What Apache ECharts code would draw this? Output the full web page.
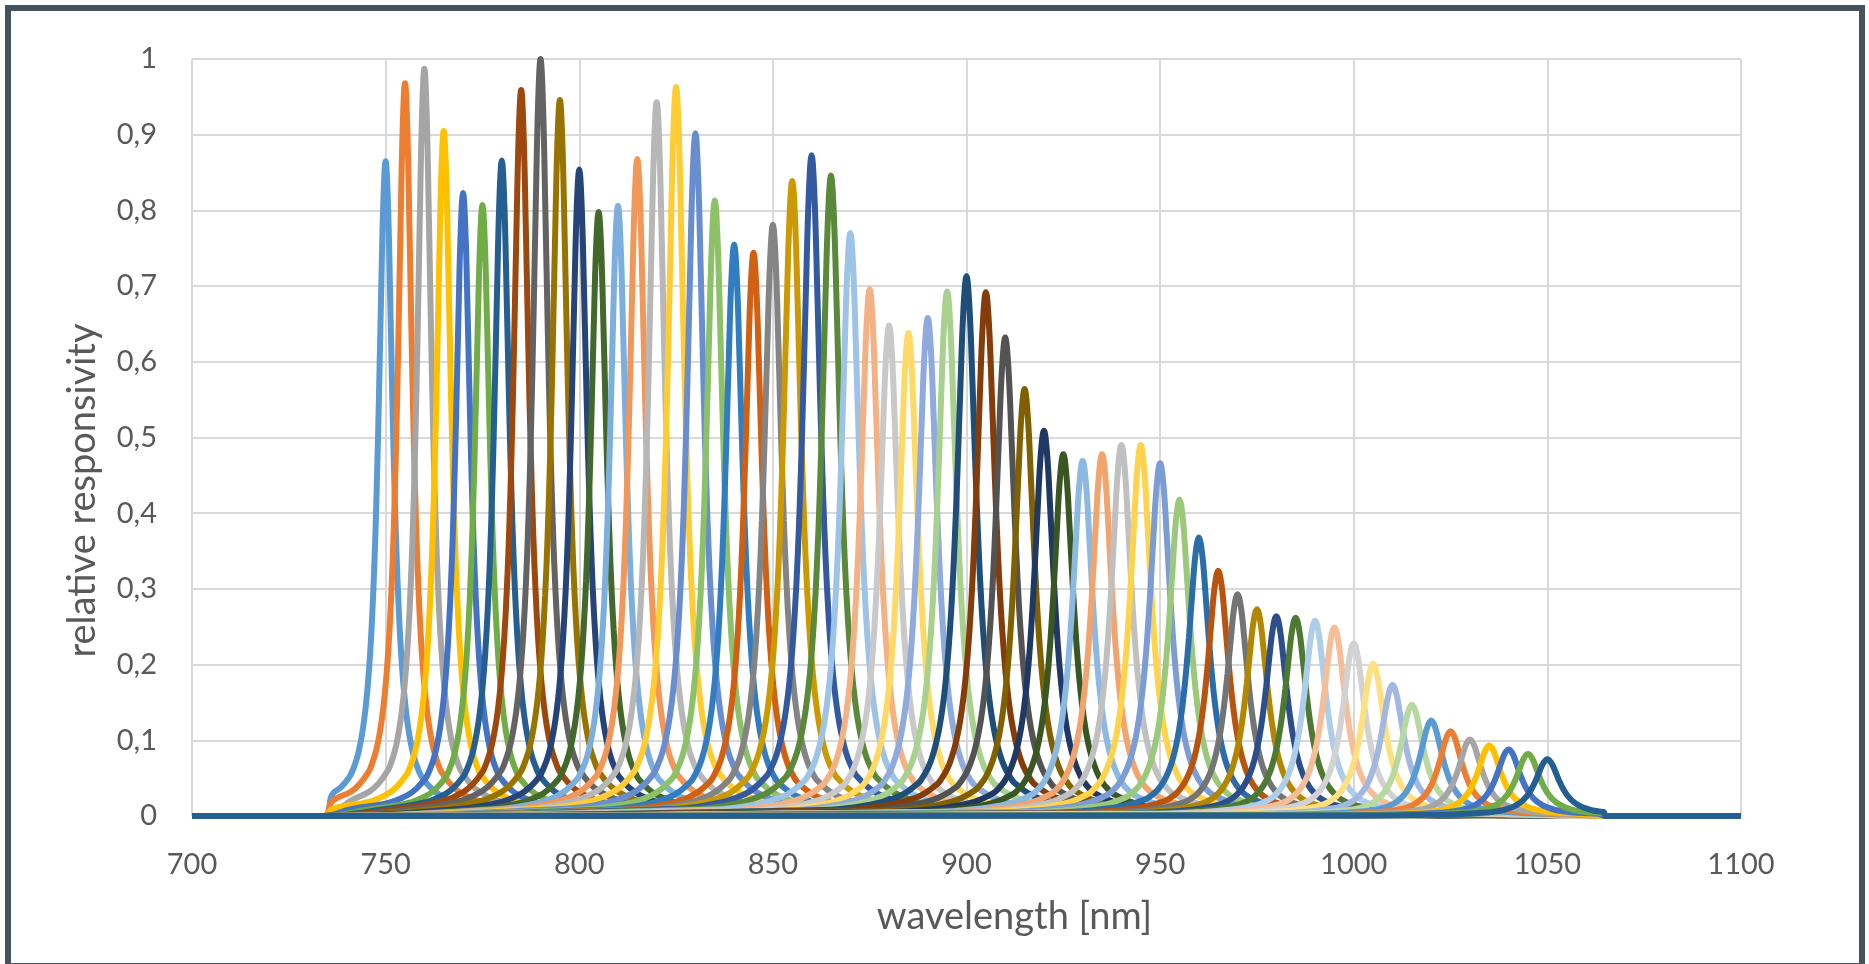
<!DOCTYPE html>
<html lang="en">
<head>
    <meta charset="UTF-8">
    <title>relative responsivity</title>
    <script src="https://cdn.jsdelivr.net/npm/echarts@6/dist/echarts.min.js"></script>
    <style>
        body { margin: 0; background: #fff; }
        #frame { position: absolute; left: 5px; top: 5px; width: 1860px; height: 964px; box-sizing: border-box;
                 border: 6px solid #46525e; pointer-events: none; }
    </style>
</head>
<body>
    <div id="dv" style="position:absolute;left:0;top:0;width:1869px;height:964px;"></div>
    <div id="frame"></div>
</body>
<script>
   // peak centre wavelengths [nm]
   var PEAK_CENTERS = [750, 755, 760, 765, 770, 775, 780, 785, 790, 795,
                       800, 805, 810, 815, 820, 825, 830, 835, 840, 845,
                       850, 855, 860, 865, 870, 875, 880, 885, 890, 895,
                       900, 905, 910, 915, 920, 925, 930, 935, 940, 945,
                       950, 955, 960, 965, 970, 975, 980, 985, 990, 995,
                       1000, 1005, 1010, 1015, 1020, 1025, 1030, 1035, 1040, 1045, 1050]
   // peak heights (relative responsivity)
   var PEAK_HEIGHTS = [0.865, 0.968, 0.987, 0.905, 0.823, 0.807, 0.866, 0.959, 1.0, 0.946,
                       0.854, 0.798, 0.806, 0.868, 0.943, 0.963, 0.902, 0.813, 0.755, 0.744,
                       0.781, 0.839, 0.873, 0.846, 0.770, 0.696, 0.648, 0.638, 0.658, 0.693,
                       0.713, 0.692, 0.632, 0.564, 0.509, 0.478, 0.469, 0.478, 0.490, 0.490,
                       0.466, 0.418, 0.368, 0.324, 0.293, 0.273, 0.264, 0.262, 0.258, 0.249,
                       0.228, 0.201, 0.173, 0.147, 0.126, 0.112, 0.101, 0.093, 0.088, 0.082, 0.075]
   // half width at half maximum of each peak [nm]
   var PEAK_HWHM = [2.30, 2.33, 2.35, 2.38, 2.41, 2.43, 2.46, 2.49, 2.51, 2.54,
                    2.57, 2.59, 2.62, 2.65, 2.67, 2.70, 2.73, 2.75, 2.78, 2.81,
                    2.83, 2.86, 2.89, 2.91, 2.94, 2.97, 2.99, 3.02, 3.05, 3.07,
                    3.10, 3.13, 3.15, 3.18, 3.21, 3.23, 3.26, 3.29, 3.31, 3.34,
                    3.37, 3.39, 3.42, 3.45, 3.47, 3.50, 3.53, 3.55, 3.58, 3.61,
                    3.63, 3.66, 3.69, 3.71, 3.74, 3.77, 3.79, 3.82, 3.85, 3.87, 3.90]
   // common peak shape: offset in half widths -> fraction of the peak height
   var PROFILE_OFFSETS = [-12, -8, -6, -5, -4, -3.75, -3.5, -3.25, -3, -2.75, -2.5, -2.25, -2, -1.75, -1.5, -1.25,
                          -1, -0.75, -0.5, -0.25, 0, 0.25, 0.5, 0.75, 1, 1.25, 1.5, 1.75, 2, 2.25, 2.5, 2.75,
                          3, 3.25, 3.5, 3.75, 4, 5, 6, 8, 12]
   var PROFILE_VALUES = [0.011, 0.021, 0.033, 0.044, 0.061, 0.068, 0.077, 0.087, 0.1, 0.117, 0.138, 0.165, 0.2, 0.246, 0.308, 0.39,
                         0.5, 0.64, 0.8, 0.941, 1, 0.941, 0.8, 0.64, 0.5, 0.39, 0.308, 0.246, 0.2, 0.165, 0.138, 0.117,
                         0.1, 0.087, 0.077, 0.068, 0.061, 0.044, 0.033, 0.021, 0.011]
   // measured range of the spectra, zero outside
   var RANGE_START = 734
   var RANGE_END = 1065
   var X_MIN = 700, X_MAX = 1100, X_STEP = 50
   var Y_MIN = 0, Y_MAX = 1, Y_STEP = 0.1

   // office theme accents and the chart colour variations (lumMod, lumOff)
   var accents = ['#5B9BD5', '#ED7D31', '#A5A5A5', '#FFC000', '#4472C4', '#70AD47']
   var variations = [[1, 0], [0.6, 0], [0.8, 0.2], [0.8, 0], [0.6, 0.4], [0.5, 0], [0.7, 0.3], [0.7, 0], [0.5, 0.5]]

   function shade(hex, mod, off) {
       var r = parseInt(hex.slice(1, 3), 16) / 255, g = parseInt(hex.slice(3, 5), 16) / 255, b = parseInt(hex.slice(5, 7), 16) / 255
       var max = Math.max(r, g, b), min = Math.min(r, g, b)
       var h = 0, s = 0, l = (max + min) / 2
       if (max !== min) {
           var d = max - min
           s = l > 0.5 ? d / (2 - max - min) : d / (max + min)
           if (max === r) h = (g - b) / d + (g < b ? 6 : 0)
           else if (max === g) h = (b - r) / d + 2
           else h = (r - g) / d + 4
           h /= 6
       }
       l = Math.min(1, l * mod + off)
       function hue(p, q, t) {
           if (t < 0) t += 1
           if (t > 1) t -= 1
           if (t < 1 / 6) return p + (q - p) * 6 * t
           if (t < 1 / 2) return q
           if (t < 2 / 3) return p + (q - p) * (2 / 3 - t) * 6
           return p
       }
       var R, G, B
       if (s === 0) { R = G = B = l }
       else {
           var q = l < 0.5 ? l * (1 + s) : l + s - l * s
           var p = 2 * l - q
           R = hue(p, q, h + 1 / 3); G = hue(p, q, h); B = hue(p, q, h - 1 / 3)
       }
       return 'rgb(' + Math.round(R * 255) + ',' + Math.round(G * 255) + ',' + Math.round(B * 255) + ')'
   }

   function peakData(i) {
       var pts = [[X_MIN, 0], [RANGE_START, 0]]
       PROFILE_OFFSETS.forEach(function (o, k) {
           var x = PEAK_CENTERS[i] + o * PEAK_HWHM[i]
           if (x > RANGE_START && x < RANGE_END) pts.push([x, PEAK_HEIGHTS[i] * PROFILE_VALUES[k]])
       })
       pts.push([RANGE_END, 0], [X_MAX, 0])
       return pts
   }

   var series = PEAK_CENTERS.map(function (c, i) {
       var v = variations[Math.floor(i / 6) % variations.length]
       return {
           name: c + ' nm',
           type: 'line',
           symbol: 'none',
           smooth: 0.4,
           clip: false,
           lineStyle: { width: 6, color: shade(accents[i % 6], v[0], v[1]) },
           data: peakData(i)
       }
   })

   var font = 'Lato, "Open Sans", sans-serif'
   var myChart = echarts.init(document.getElementById('dv'))
   var option = {
       animation: false,
       grid: { left: 192, right: 128, top: 59, bottom: 148 },
       xAxis: {
           type: 'value', min: X_MIN, max: X_MAX, interval: X_STEP,
           name: 'wavelength [nm]', nameLocation: 'middle', nameGap: 82,
           nameTextStyle: { fontFamily: font, fontSize: 38, color: '#595959', padding: [0, 0, 0, 96] },
           axisLine: { show: false }, axisTick: { show: false },
           axisLabel: { fontFamily: font, fontSize: 29, color: '#595959', margin: 34,
               formatter: function (v) { return String(v) } },
           splitLine: { show: true, lineStyle: { color: '#d9d9d9', width: 2 } }
       },
       yAxis: {
           type: 'value', min: Y_MIN, max: Y_MAX, interval: Y_STEP,
           name: 'relative responsivity', nameLocation: 'middle', nameGap: 90,
           nameTextStyle: { fontFamily: font, fontSize: 38, color: '#595959', padding: [0, 106, 0, 0] },
           axisLine: { show: false }, axisTick: { show: false },
           axisLabel: {
               fontFamily: font, fontSize: 29, color: '#595959', margin: 35,
               formatter: function (v) { return (Math.round(v * 10) / 10).toString().replace('.', ',') }
           },
           splitLine: { lineStyle: { color: '#d9d9d9', width: 2 } }
       },
       series: series
   }
   myChart.setOption(option)
</script>
</html>
